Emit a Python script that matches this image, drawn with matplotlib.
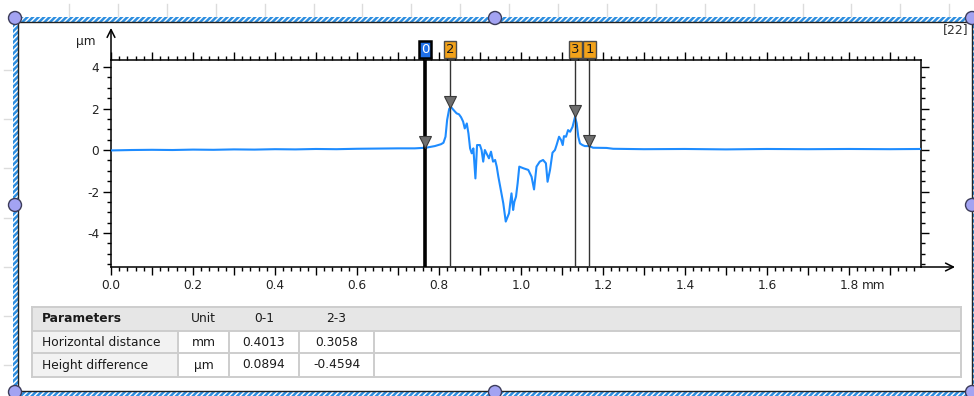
import matplotlib
matplotlib.use('Agg')
import matplotlib.pyplot as plt
import matplotlib.transforms as mtransforms
from matplotlib.patches import Rectangle, Circle
from matplotlib.ticker import MultipleLocator, FuncFormatter
import numpy as np

plt.rcParams['font.family'] = ['DejaVu Sans']
plt.rcParams['axes.unicode_minus'] = False
plt.rcParams['hatch.linewidth'] = 1.8

# profile (mm, µm)
PROFILE_X = [0.000, 0.050, 0.100, 0.150, 0.200, 0.250, 0.300, 0.350, 0.400, 0.450,
             0.500, 0.550, 0.600, 0.650, 0.700, 0.741, 0.768, 0.790, 0.805, 0.811,
             0.816, 0.820, 0.825, 0.829, 0.837, 0.843, 0.849, 0.854, 0.859, 0.863,
             0.868, 0.872, 0.876, 0.880, 0.884, 0.889, 0.893, 0.900, 0.904, 0.908,
             0.912, 0.916, 0.922, 0.927, 0.932, 0.937, 0.941, 0.945, 0.951, 0.957,
             0.963, 0.967, 0.971, 0.974, 0.977, 0.981, 0.984, 0.988, 0.992, 0.996,
             1.006, 1.018, 1.026, 1.032, 1.038, 1.046, 1.054, 1.061, 1.065, 1.071,
             1.077, 1.083, 1.087, 1.093, 1.098, 1.102, 1.105, 1.110, 1.115, 1.120,
             1.126, 1.132, 1.136, 1.140, 1.144, 1.150, 1.156, 1.167, 1.176, 1.209,
             1.225, 1.300, 1.400, 1.500, 1.600, 1.700, 1.800, 1.900, 1.976]
PROFILE_Y = [-0.02, 0.00, 0.01, 0.00, 0.02, 0.01, 0.03, 0.02, 0.04, 0.03,
             0.05, 0.04, 0.06, 0.07, 0.08, 0.08, 0.11, 0.19, 0.28, 0.35,
             0.64, 1.45, 1.98, 2.08, 1.90, 1.77, 1.72, 1.58, 1.37, 1.04,
             1.28, 0.80, 0.08, -0.16, 0.08, -1.37, 0.24, 0.24, 0.00, -0.56,
             0.00, -0.16, -0.40, -0.08, -0.56, -0.48, -0.80, -1.29, -1.93, -2.57,
             -3.45, -3.25, -3.05, -2.55, -2.09, -2.89, -2.50, -2.25, -1.60, -0.80,
             -0.88, -0.96, -1.29, -1.90, -0.80, -0.56, -0.48, -0.64, -1.53, -0.96,
             -0.13, 0.00, 0.24, 0.64, 0.48, 0.24, 0.67, 0.64, 0.96, 0.88,
             1.12, 1.60, 1.29, 0.64, 0.32, 0.24, 0.19, 0.19, 0.11, 0.10,
             0.06, 0.04, 0.05, 0.03, 0.05, 0.04, 0.05, 0.04, 0.05]

CURSOR_IDS = ['0', '1', '2', '3']
CURSOR_X = [0.766, 1.1673, 0.827, 1.1328]
CURSOR_H = [0.10, 0.19, 2.06, 1.60]

TABLE_HEADER = ['Parameters', 'Unit', '0-1', '2-3']
TABLE_ROWS = [
    ['Horizontal distance', 'mm', '0.4013', '0.3058'],
    ['Height difference', 'µm', '0.0894', '-0.4594'],
]

W, H = 974, 396
fig = plt.figure(figsize=(W / 100, H / 100), dpi=100)
fig.patch.set_facecolor('white')

# overlay in pixel coordinates for frame + table
ov = fig.add_axes([0, 0, 1, 1], zorder=0)
ov.set_xlim(0, W)
ov.set_ylim(H, 0)
ov.axis('off')

ax = fig.add_axes([111 / W, 1 - 267 / H, 810 / W, 207 / H], zorder=2)
ax.set_facecolor('none')
ax.plot(PROFILE_X, PROFILE_Y, color='#1E8CFF', lw=1.5, zorder=3)
ax.set_xlim(0, 1.976)
ax.set_ylim(-5.64, 4.34)

ax.xaxis.set_major_locator(MultipleLocator(0.1))
ax.xaxis.set_minor_locator(MultipleLocator(0.02))
ax.xaxis.set_major_formatter(FuncFormatter(lambda v, _: f'{v:.1f}' if round(v * 10) % 2 == 0 else ''))
ax.yaxis.set_major_locator(MultipleLocator(2))
ax.yaxis.set_minor_locator(MultipleLocator(0.5))
ax.yaxis.set_major_formatter(FuncFormatter(lambda v, _: f'{v:.0f}'))
ax.tick_params(which='both', direction='out', top=True, right=True, width=1.0,
               labelsize=8.7, labelcolor='#222222')
ax.tick_params(which='major', length=5.5, pad=3)
ax.tick_params(which='minor', length=2.8)
for sp in ax.spines.values():
    sp.set_linewidth(1.1)

# axis arrows
ax.annotate('', xy=(0, 1.155), xytext=(0, 1.0), xycoords='axes fraction',
            arrowprops=dict(arrowstyle='->', lw=1.1, color='black', shrinkA=0, shrinkB=0,
                            mutation_scale=14))
ax.annotate('', xy=(1.042, 0), xytext=(1.0, 0), xycoords='axes fraction',
            arrowprops=dict(arrowstyle='->', lw=1.1, color='black', shrinkA=0, shrinkB=0,
                            mutation_scale=14))
ax.text(-0.031, 1.087, 'µm', transform=ax.transAxes, ha='center', va='center',
        fontsize=8.7, color='#222222')
ax.annotate('mm', xy=(1.8, 0), xycoords=('data', 'axes fraction'), xytext=(18, -13),
            textcoords='offset points', ha='center', va='center', fontsize=8.7, color='#222222')

# cursors
trans = mtransforms.blended_transform_factory(ax.transData, ax.transAxes)
box_trans = mtransforms.offset_copy(trans, fig=fig, x=0, y=3.2, units='points')
for cid, cx, ch in zip(CURSOR_IDS, CURSOR_X, CURSOR_H):
    main = cid == '0'
    ax.axvline(cx, color='black' if main else '#333333', lw=2.6 if main else 1.0, zorder=4)
    ax.plot([cx], [ch], marker='v', ms=8, color='#6e6e6e', mec='#3a3a3a', mew=0.8,
            zorder=5, transform=mtransforms.offset_copy(ax.transData, fig=fig, x=0, y=4, units='points'))
    ax.text(cx, 1.0, cid, transform=box_trans, ha='center', va='bottom', fontsize=9.5,
            color='white' if main else '#1a1a1a', zorder=6, clip_on=False,
            bbox=dict(boxstyle='square,pad=0.15', fc='#1f6fe8' if main else '#f2a21a',
                      ec='black' if main else '#4a4a4a', lw=1.8 if main else 1.0))

# table
col_edges = [32, 178, 229, 299, 374, 961]
row_edges = [307, 331, 353, 377]
ov.add_patch(Rectangle((col_edges[0], row_edges[0]), col_edges[-1] - col_edges[0],
                       row_edges[1] - row_edges[0], fc='#e6e6e6', ec='none'))
for r in range(1, 3):
    ov.add_patch(Rectangle((col_edges[0], row_edges[r]), col_edges[1] - col_edges[0],
                           row_edges[r + 1] - row_edges[r], fc='#f2f2f2', ec='none'))
for y in row_edges:
    ov.plot([col_edges[0], col_edges[-1]], [y, y], color='#cdcdcd', lw=1.4)
for i, x in enumerate(col_edges):
    y0 = row_edges[0] if i in (0, len(col_edges) - 1) else row_edges[1]
    ov.plot([x, x], [y0, row_edges[-1]], color='#cdcdcd', lw=1.4)

rows = [TABLE_HEADER] + TABLE_ROWS
for r, row in enumerate(rows):
    yc = (row_edges[r] + row_edges[r + 1]) / 2
    for c, val in enumerate(row):
        if c == 0:
            ov.text(col_edges[0] + 10, yc, val, ha='left', va='center', fontsize=8.8,
                    color='#1a1a1a', fontweight='bold' if r == 0 else 'normal')
        else:
            xc = (col_edges[c] + col_edges[c + 1]) / 2
            ov.text(xc, yc, val, ha='center', va='center', fontsize=8.8, color='#1a1a1a')

# selection frame
stripe = 5
left, top, right, bottom = 13, 17, 972, 391
for (x, y, w, h) in [(left, top, right - left, stripe), (left, bottom, right - left, stripe),
                     (left, top, stripe, bottom - top), (right, top, stripe, bottom - top)]:
    ov.add_patch(Rectangle((x, y), w, h, fc='white', ec='#2d8ee0', lw=0, hatch='//////'))
ov.plot([left + stripe, right, right, left + stripe, left + stripe],
        [top + stripe, top + stripe, bottom, bottom, top + stripe], color='#222222', lw=1.0)
for hx, hy in [(15, 18), (495, 18), (972, 18), (15, 205), (972, 205),
               (15, 392), (495, 392), (972, 392)]:
    ov.add_patch(Circle((hx, hy), 6.5, fc='#a3a3f2', ec='#3c3c5a', lw=1.0, zorder=5))

# faint ruler marks
for rx in np.arange(69, 960, 48.9):
    ov.plot([rx, rx], [4, 16], color='#dcdcdc', lw=1.0)
for ry in np.arange(70, 390, 49.2):
    ov.plot([4, 11], [ry, ry], color='#dcdcdc', lw=1.0)

ov.text(968, 30, '[22]', ha='right', va='center', fontsize=9, color='#333333')

fig.savefig('out.png', dpi=100)
